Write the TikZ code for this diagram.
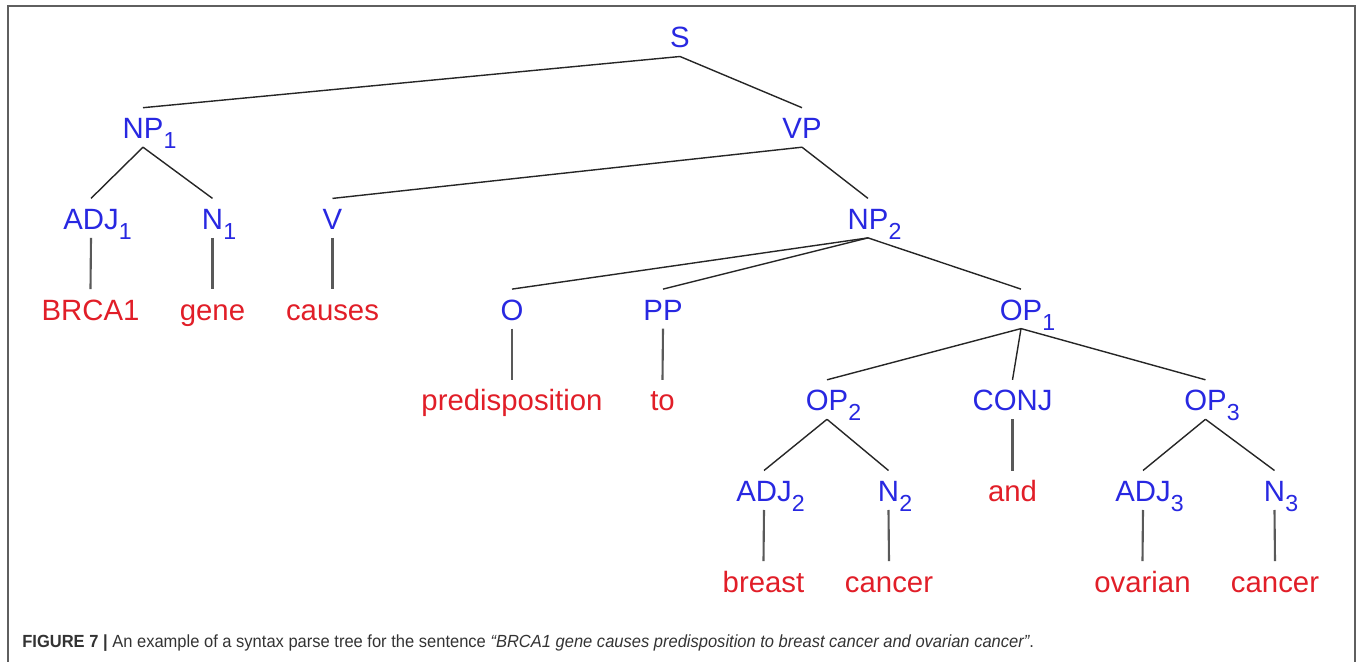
\documentclass[tikz,border=0pt]{standalone}
\usepackage{fontspec}
\setmainfont{Liberation Sans}
\newfontfamily\capfont[FakeStretch=0.94]{Liberation Sans}
\usetikzlibrary{positioning}
\definecolor{catblue}{RGB}{40,40,225}
\definecolor{wordred}{RGB}{225,30,40}
\definecolor{framegray}{RGB}{95,95,95}
\newcommand{\tsub}[1]{\rlap{\hspace{0.005cm}\raisebox{-0.2cm}{\fontsize{13.2}{14}\selectfont #1}}}

\begin{document}
\begin{tikzpicture}[x=0.02cm, y=-0.02cm,
  cat/.style={text=catblue, font=\fontsize{16.7}{20}\selectfont, anchor=base,
    text height=0.45cm, text depth=0pt, inner ysep=0.17cm, inner xsep=0pt, outer sep=0pt},
  word/.style={cat, text=wordred},
  branch/.style={draw=black!85, line width=0.8pt},
  leaf/.style={draw=black!65, line width=1.2pt}
]
\useasboundingbox (0,0) rectangle (1360,662);
\draw[framegray, line width=1.1pt] (8,662) -- (8,6) -- (1355,6) -- (1355,662);

% categories
\node[cat] (s) at (680,48) {S};
\node[cat] (np1) at (143,138.7) {NP\tsub{1}};
\node[cat] (vp) at (802,138.7) {VP};
\node[cat] (adj1) at (91,229.4) {ADJ\tsub{1}};
\node[cat] (n1) at (212.5,229.4) {N\tsub{1}};
\node[cat] (v) at (332.5,229.4) {V};
\node[cat] (np2) at (868,229.4) {NP\tsub{2}};
\node[cat] (o) at (512,320.1) {O};
\node[cat] (pp) at (663,320.1) {PP};
\node[cat] (op1) at (1021,320.1) {OP\tsub{1}};
\node[cat] (op2) at (827,410.8) {OP\tsub{2}};
\node[cat] (conj) at (1012.5,410.8) {CONJ};
\node[cat] (op3) at (1205.5,410.8) {OP\tsub{3}};
\node[cat] (adj2) at (764,501.5) {ADJ\tsub{2}};
\node[cat] (n2) at (888.5,501.5) {N\tsub{2}};
\node[cat] (adj3) at (1143,501.5) {ADJ\tsub{3}};
\node[cat] (n3) at (1274.5,501.5) {N\tsub{3}};

% words
\node[word] (brca) at (90.5,320.1) {BRCA1};
\node[word] (gene) at (212.5,320.1) {gene};
\node[word] (causes) at (332.5,320.1) {causes};
\node[word] (predisp) at (512,410.8) {predisposition};
\node[word] (to) at (662.5,410.8) {to};
\node[word] (and) at (1012.5,501.5) {and};
\node[word] (breast) at (763.5,592.2) {breast};
\node[word] (cancera) at (889,592.2) {cancer};
\node[word] (ovarian) at (1142.5,592.2) {ovarian};
\node[word] (cancerb) at (1275,592.2) {cancer};

% branches
\draw[branch] (s.south) -- (np1.north);
\draw[branch] (s.south) -- (vp.north);
\draw[branch] (np1.south) -- (adj1.north);
\draw[branch] (np1.south) -- (n1.north);
\draw[branch] (vp.south) -- (v.north);
\draw[branch] (vp.south) -- (np2.north);
\draw[branch] (np2.south) -- (o.north);
\draw[branch] (np2.south) -- (pp.north);
\draw[branch] (np2.south) -- (op1.north);
\draw[branch] (op1.south) -- (op2.north);
\draw[branch] (op1.south) -- (conj.north);
\draw[branch] (op1.south) -- (op3.north);
\draw[branch] (op2.south) -- (adj2.north);
\draw[branch] (op2.south) -- (n2.north);
\draw[branch] (op3.south) -- (adj3.north);
\draw[branch] (op3.south) -- (n3.north);

\draw[leaf] (adj1.south) -- (brca.north);
\draw[leaf] (n1.south) -- (gene.north);
\draw[leaf] (v.south) -- (causes.north);
\draw[leaf] (o.south) -- (predisp.north);
\draw[leaf] (pp.south) -- (to.north);
\draw[leaf] (conj.south) -- (and.north);
\draw[leaf] (adj2.south) -- (breast.north);
\draw[leaf] (n2.south) -- (cancera.north);
\draw[leaf] (adj3.south) -- (ovarian.north);
\draw[leaf] (n3.south) -- (cancerb.north);

% caption
\node[anchor=base west, inner sep=0pt, text=black!80, font=\capfont\fontsize{10}{12}\selectfont]
  (caption) at (22,647) {\textbf{FIGURE 7 |} An example of a syntax parse tree for the sentence \textit{“BRCA1 gene causes predisposition to breast cancer and ovarian cancer”}.};
\end{tikzpicture}
\end{document}
